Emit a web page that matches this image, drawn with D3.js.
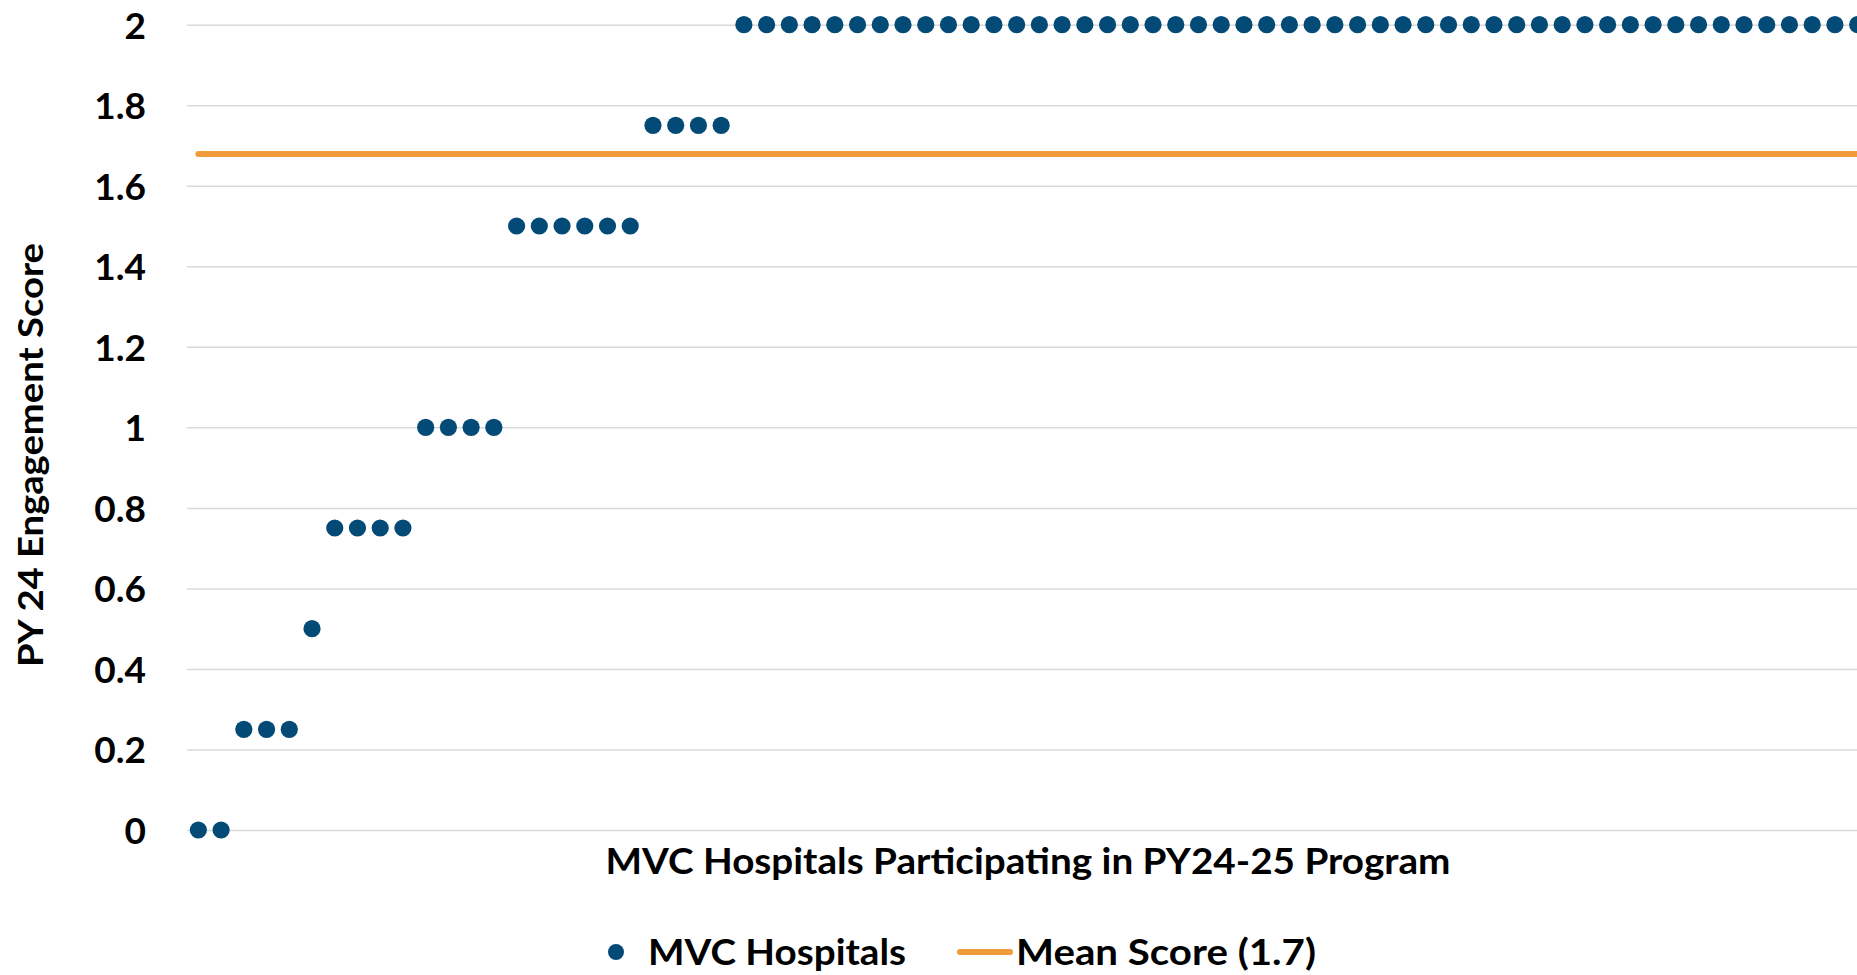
<!DOCTYPE html>
<html>
<head>
<meta charset="utf-8">
<script src="https://cdn.jsdelivr.net/npm/d3@7"></script>
<style>
	body { margin: 0; background: #fff; }
	text { font-family: Lato, "Open Sans", sans-serif; font-weight: 700; fill: #000; }
</style>
</head>
<body>
<div id="chart"></div>
<script>
// PY 24 engagement score of each hospital, sorted low to high
var score_groups = [0, 0.25, 0.5, 0.75, 1, 1.5, 1.75, 2];
var group_counts = [2, 3, 1, 4, 4, 6, 4, 50];
var y_ticks = [0, 0.2, 0.4, 0.6, 0.8, 1, 1.2, 1.4, 1.6, 1.8, 2];
var y_title = 'PY 24 Engagement Score';
var x_title = 'MVC Hospitals Participating in PY24-25 Program';
var legend_labels = ['MVC Hospitals', 'Mean Score (1.7)'];

var fmt = {
	width: 1857,
	height: 975,
	left: 187,
	step: 22.73,
	top: 24.7,
	bottom: 830,
	clr_dot: '#034b76',
	clr_mean: '#f09c3b',
	clr_grid: '#d9d9d9',
	fs: 37
};

// expand the groups into one value per hospital
var scores = [];
score_groups.forEach(function(v, i) {
	for (var k = 0; k < group_counts[i]; k++) scores.push(v);
});
var mean_score = d3.mean(scores);

var svg = d3.select('#chart').append('svg')
	.attr('width', fmt.width)
	.attr('height', fmt.height)
	.style('display', 'block');

var xScale = d3.scaleBand()
	.domain(d3.range(scores.length))
	.range([fmt.left, fmt.left + scores.length * fmt.step])
	.paddingInner(0);
var yScale = d3.scaleLinear()
	.domain([0, 2])
	.range([fmt.bottom, fmt.top]);
function cx(i) { return xScale(i) + xScale.bandwidth() / 2; }

// gridlines + tick labels
var yAxis = d3.axisLeft(yScale)
	.tickValues(y_ticks)
	.tickSize(-(xScale.range()[1] - fmt.left))
	.tickPadding(41)
	.tickFormat(d3.format('~g'));
var gy = svg.append('g')
	.attr('transform', `translate(${fmt.left},0)`)
	.call(yAxis);
gy.select('.domain').remove();
gy.selectAll('line').attr('stroke', fmt.clr_grid).attr('stroke-width', 1.5);
gy.selectAll('text')
	.attr('font-size', fmt.fs)
	.attr('font-family', 'Lato, sans-serif')
	.attr('font-weight', 700)
	.attr('fill', '#000')
	.attr('dy', '0.36em');

// mean line
svg.append('line')
	.attr('x1', cx(0))
	.attr('x2', cx(scores.length - 1))
	.attr('y1', yScale(mean_score))
	.attr('y2', yScale(mean_score))
	.attr('stroke', fmt.clr_mean)
	.attr('stroke-width', 6)
	.attr('stroke-linecap', 'round');

// hospitals
svg.append('g').selectAll('circle')
	.data(scores)
	.join('circle')
	.attr('cx', function(d, i) { return cx(i); })
	.attr('cy', function(d) { return yScale(d); })
	.attr('r', 8.6)
	.attr('fill', fmt.clr_dot);

// axis titles
svg.append('text')
	.attr('transform', 'translate(43,455) rotate(-90)')
	.attr('text-anchor', 'middle')
	.attr('font-size', 35)
	.attr('textLength', 424)
	.attr('lengthAdjust', 'spacingAndGlyphs')
	.text(y_title);

svg.append('text')
	.attr('x', 1028)
	.attr('y', 874)
	.attr('text-anchor', 'middle')
	.attr('font-size', fmt.fs)
	.attr('textLength', 845)
	.attr('lengthAdjust', 'spacingAndGlyphs')
	.text(x_title);

// legend
var lg = svg.append('g');
lg.append('circle')
	.attr('cx', 616).attr('cy', 952).attr('r', 8)
	.attr('fill', fmt.clr_dot);
lg.append('text')
	.attr('x', 648).attr('y', 965)
	.attr('font-size', fmt.fs)
	.attr('textLength', 258)
	.attr('lengthAdjust', 'spacingAndGlyphs')
	.text(legend_labels[0]);
lg.append('line')
	.attr('x1', 960).attr('x2', 1010)
	.attr('y1', 952).attr('y2', 952)
	.attr('stroke', fmt.clr_mean)
	.attr('stroke-width', 6)
	.attr('stroke-linecap', 'round');
lg.append('text')
	.attr('x', 1016).attr('y', 965)
	.attr('font-size', fmt.fs)
	.attr('textLength', 300)
	.attr('lengthAdjust', 'spacingAndGlyphs')
	.text(legend_labels[1]);
</script>
</body>
</html>
